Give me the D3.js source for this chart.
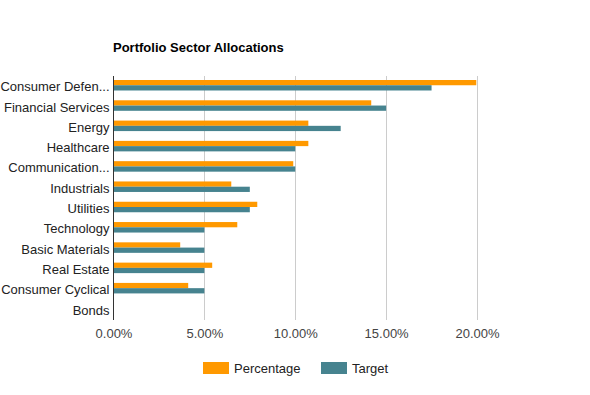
<!DOCTYPE html>
<html><head><meta charset="utf-8">
<script src="https://cdn.jsdelivr.net/npm/d3@7"></script>
<style>body{margin:0;background:#fff}svg{display:block;font-family:Arial,"Liberation Sans",sans-serif}</style>
</head><body><div id="chart"></div>
<script>
const categories = ["Consumer Defen...","Financial Services","Energy","Healthcare","Communication...","Industrials","Utilities","Technology","Basic Materials","Real Estate","Consumer Cyclical","Bonds"];
const percentage = [19.96,14.18,10.72,10.72,9.89,6.48,7.91,6.81,3.67,5.43,4.11,0];
const target = [17.5,15,12.5,10,10,7.5,7.5,5,5,5,5,0];
const seriesNames = ["Percentage","Target"];
const tickValues = [0,5,10,15,20];
const colors = ["#ff9900","#46838f"];

const W=590,H=395;
const svg=d3.select("#chart").append("svg").attr("width",W).attr("height",H);
const x=d3.scaleLinear().domain([0,20]).range([113.5,477]);
const y=d3.scaleBand().domain(categories).range([76.5,320]);

svg.append("text").attr("x",113).attr("y",52).attr("font-size",13).attr("font-weight","bold").attr("fill","#000").text("Portfolio Sector Allocations");

// gridlines
svg.append("g").selectAll("line").data(tickValues.slice(1)).join("line")
  .attr("x1",d=>Math.round(x(d))+0.5).attr("x2",d=>Math.round(x(d))+0.5)
  .attr("y1",76).attr("y2",320).attr("stroke","#cccccc");

const inner=d3.scaleBand().domain(seriesNames).range([0,10.5]);
const g=svg.append("g");
categories.forEach((c,i)=>{
  [percentage[i],target[i]].forEach((v,j)=>{
    if(v<=0) return;
    g.append("rect").attr("x",x(0)).attr("y",y(c)+3.5+inner(seriesNames[j]))
      .attr("width",x(v)-x(0)).attr("height",inner.bandwidth()).attr("fill",colors[j]);
  });
});

// axis line
svg.append("line").attr("x1",113.5).attr("x2",113.5).attr("y1",76).attr("y2",320).attr("stroke","#333");

// category labels
const yAxis=d3.axisLeft(y).tickSize(0).tickPadding(0);
const ya=svg.append("g").attr("transform","translate(109.5,0.5)").call(yAxis);
ya.select(".domain").remove();
ya.selectAll("text").attr("font-size",13).attr("fill","#222").attr("font-family","Arial,'Liberation Sans',sans-serif");

// x tick labels
const xAxis=d3.axisBottom(x).tickValues(tickValues).tickSize(0).tickPadding(0).tickFormat(d=>d3.format(".2f")(d)+"%");
const xa=svg.append("g").attr("transform","translate(0,329)").call(xAxis);
xa.select(".domain").remove();
xa.selectAll("text").attr("font-size",13).attr("fill","#444").attr("font-family","Arial,'Liberation Sans',sans-serif");

// legend
const leg=svg.append("g");
const lx=[203,321];
seriesNames.forEach((s,i)=>{
  leg.append("rect").attr("x",lx[i]).attr("y",362).attr("width",26).attr("height",12).attr("fill",colors[i]);
  leg.append("text").attr("x",lx[i]+31).attr("y",373).attr("font-size",13).attr("fill","#222").text(s);
});
</script></body></html>
